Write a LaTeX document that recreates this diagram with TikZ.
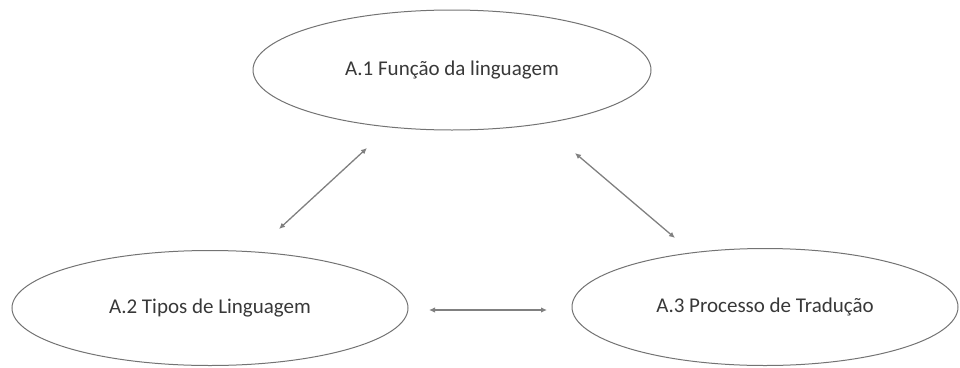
\documentclass[tikz,border=0pt]{standalone}
\usepackage{fontspec}
\setmainfont{Carlito}
\usetikzlibrary{arrows.meta,shapes.geometric}
\tikzset{
  topic/.style={ellipse, draw=black!55, line width=1pt, inner sep=0pt, text=black!78, font=\fontsize{21}{25}\selectfont},
  link/.style={draw=black!50, line width=1.3pt, {Latex[length=6pt,width=5.5pt]}-{Latex[length=6pt,width=5.5pt]}}
}

\begin{document}
\begin{tikzpicture}[x=1pt, y=-1pt]
			%%%%% START %%%%%
			
			\useasboundingbox (0, 0) rectangle (960, 367);
			
			\node[topic, minimum width=398pt, minimum height=120pt] (funcao) at (452, 70) {A.1 Função da linguagem};
			\node[topic, minimum width=396pt, minimum height=115pt] (tipos) at (210, 308) {A.2 Tipos de Linguagem};
			\node[topic, minimum width=386pt, minimum height=117pt] (traducao) at (765, 307) {A.3 Processo de Tradução};
			
			\coordinate (ft1) at (367, 148);
			\coordinate (ft2) at (279, 229);
			\coordinate (fp1) at (575, 153);
			\coordinate (fp2) at (675, 238);
			\coordinate (tp1) at (429, 310);
			\coordinate (tp2) at (547, 310);
			
			\draw[link] (ft1) -- (ft2);
			\draw[link] (fp1) -- (fp2);
			\draw[link] (tp1) -- (tp2);
			
			%%%%% END %%%%%
\end{tikzpicture}
\end{document}
